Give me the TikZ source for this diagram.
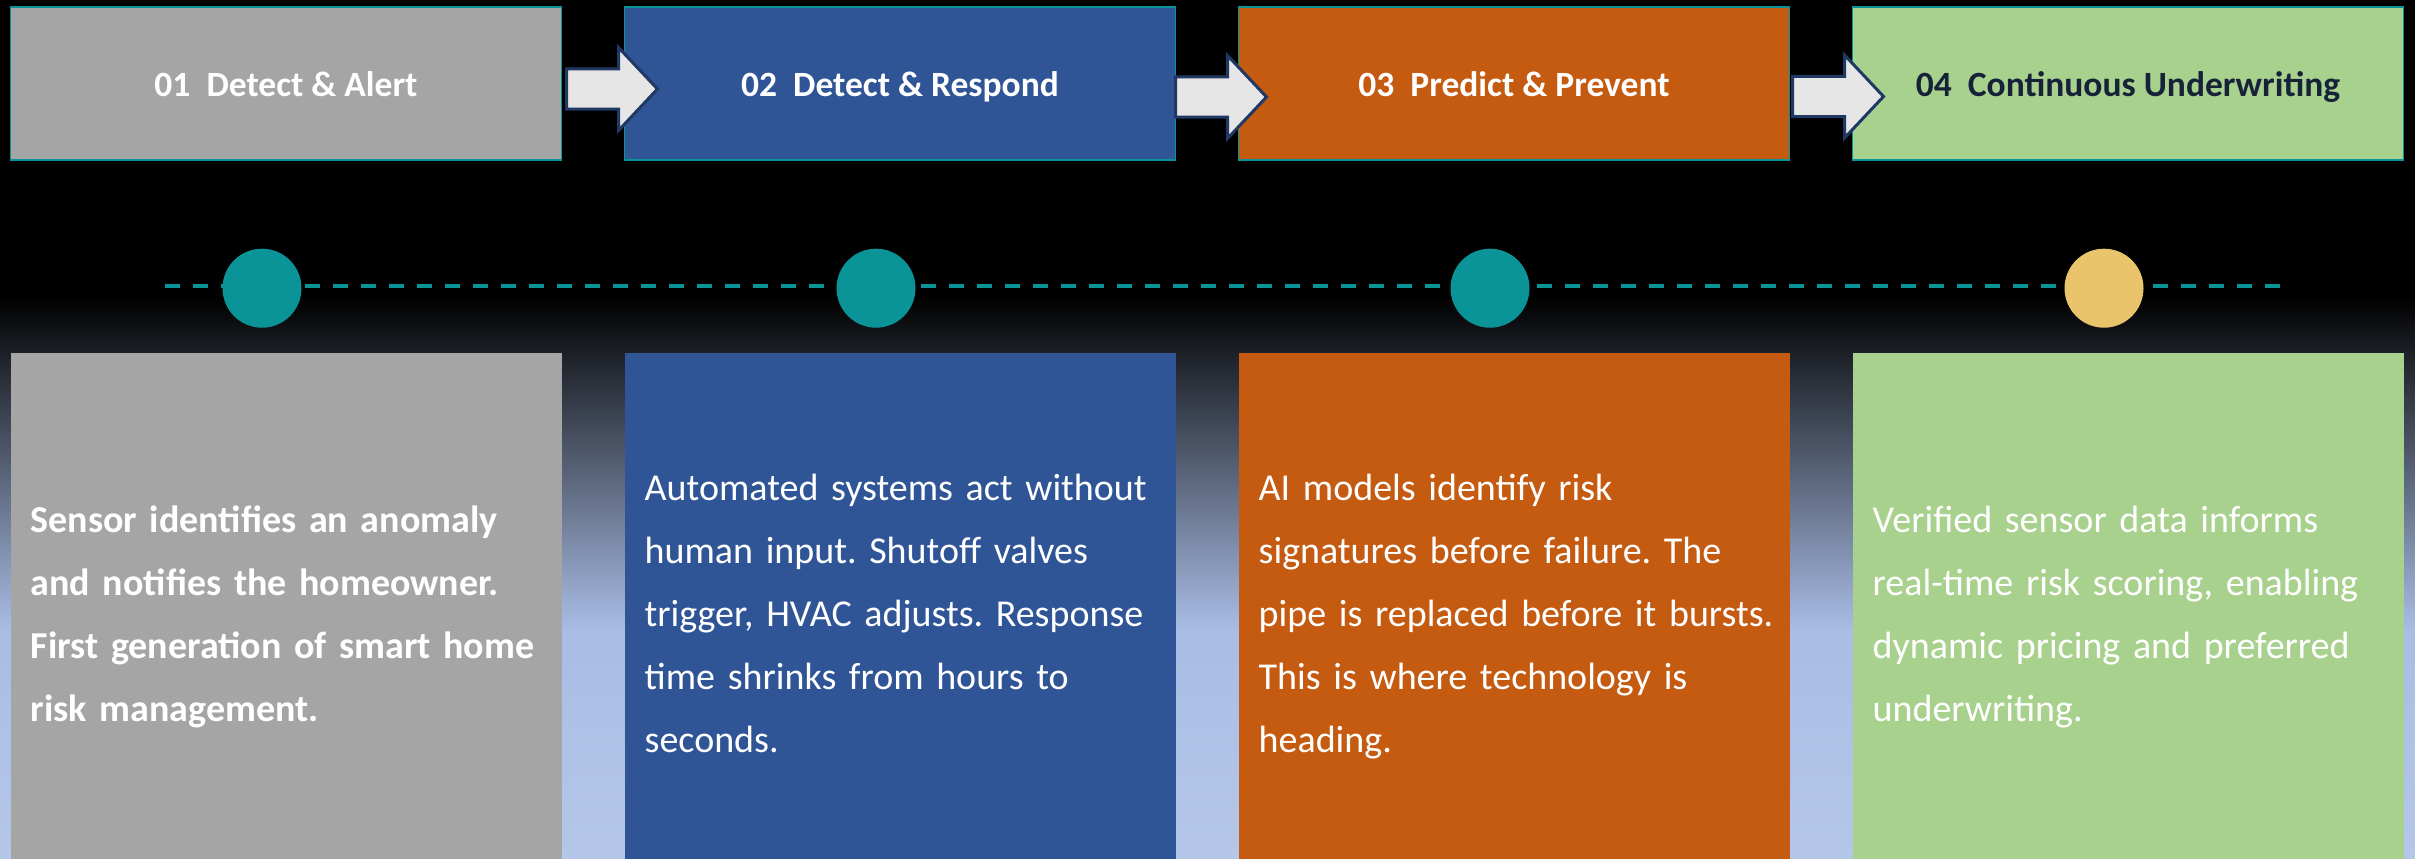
\documentclass[tikz,border=0pt]{standalone}
\usepackage{fontspec}
\setmainfont{Carlito}
\frenchspacing
\usetikzlibrary{positioning,calc}

\definecolor{stagegrey}{HTML}{A5A5A5}
\definecolor{stageblue}{HTML}{2F5597}
\definecolor{stageorange}{HTML}{C55A11}
\definecolor{stagegreen}{HTML}{A9D18E}
\definecolor{dotteal}{HTML}{0B9497}
\definecolor{dotgold}{HTML}{E9C46A}
\definecolor{arrowfill}{HTML}{E7E6E6}
\definecolor{arrowline}{HTML}{1F3864}
\definecolor{titlenavy}{HTML}{172239}
\definecolor{skyblue}{HTML}{A9BDE5}
\definecolor{skylight}{HTML}{B4C7E8}

\tikzstyle{stagehead} = [rectangle, draw=dotteal, line width=1.2pt, minimum width=551pt, minimum height=153pt, inner sep=0pt, outer sep=0pt, text=white, font=\fontsize{35.5}{40}\selectfont\bfseries, text height=25pt, text depth=0pt]
\tikzstyle{stagebody} = [rectangle, minimum width=551pt, minimum height=506pt, inner sep=0pt, outer sep=0pt]
\tikzstyle{stagetext} = [anchor=west, inner sep=0pt, text=white, text width=620pt, align=left, font=\fontsize{38}{63}\selectfont, execute at begin node=\strut, execute at end node=\strut]
\tikzstyle{stagedot} = [circle, minimum size=79pt, inner sep=0pt, fill=dotteal]
\tikzstyle{timeline} = [draw=dotteal, line width=4pt, dash pattern=on 15pt off 13pt]
\tikzstyle{blockarrow} = [draw=arrowline, fill=arrowfill, line width=3pt, line join=miter]

\tikzset{stagearrow/.pic={
    \path[blockarrow] (0,-20) -- (52,-20) -- (52,-41.5) -- (91,0)
        -- (52,41.5) -- (52,20) -- (0,20) -- cycle;}}

\begin{document}
\begin{tikzpicture}[x=1pt, y=-1pt, node distance=63pt]

    % background
    \fill[black] (0,0) rectangle (2415,859);
    \shade[top color=black, bottom color=skyblue] (0,297) rectangle (2415,630);
    \shade[top color=skyblue, bottom color=skylight] (0,630) rectangle (2415,859);
    \useasboundingbox (0,0) rectangle (2415,859);

    % stage titles
    \node[stagehead, fill=stagegrey] (h1) at (286,83.5) {01\ \ Detect \& Alert};
    \node[stagehead, fill=stageblue, right=of h1] (h2) {02\ \ Detect \& Respond};
    \node[stagehead, fill=stageorange, right=of h2] (h3) {03\ \ Predict \& Prevent};
    \node[stagehead, fill=stagegreen, right=of h3, text=titlenavy
            ] (h4) {04\ \ Continuous Underwriting};

    % arrows between titles
    \pic at ($(h1.east)+(5,5.5)$) {stagearrow};
    \pic at ($(h2.east)+(0,13.5)$) {stagearrow};
    \pic at ($(h3.east)+(3,13)$) {stagearrow};

    % timeline
    \coordinate (tl) at (165,286);
    \coordinate (tr) at (2281,286);
    \draw[timeline] (tl) -- (tr);
    \node[stagedot, below=88.5pt of h1, xshift=-24pt] (c1) {};
    \node[stagedot, below=88.5pt of h2, xshift=-24pt] (c2) {};
    \node[stagedot, below=88.5pt of h3, xshift=-24pt] (c3) {};
    \node[stagedot, below=88.5pt of h4, xshift=-24pt, fill=dotgold] (c4) {};

    % stage descriptions
    \node[stagebody, fill=stagegrey, below=193pt of h1] (b1) {};
    \node[stagebody, fill=stageblue, below=193pt of h2] (b2) {};
    \node[stagebody, fill=stageorange, below=193pt of h3] (b3) {};
    \node[stagebody, fill=stagegreen, below=193pt of h4] (b4) {};

    \node[stagetext, font=\fontsize{38}{63}\selectfont\bfseries
            ] (t1) at ($(b1.west)+(20,8)$) {Sensor identifies an anomaly\\
        and notifies the homeowner.\\ First generation of smart home\\
        risk management.};
    \node[stagetext] (t2) at ($(b2.west)+(20,8)$) {Automated systems act without\\
        human input. Shutoff valves\\ trigger, HVAC adjusts. Response\\
        time shrinks from hours to\\ seconds.};
    \node[stagetext] (t3) at ($(b3.west)+(20,8)$) {AI models identify risk\\
        signatures before failure. The\\ pipe is replaced before it bursts.\\
        This is where technology is\\ heading.};
    \node[stagetext] (t4) at ($(b4.west)+(20,8)$) {Verified sensor data informs\\
        real-time risk scoring, enabling\\ dynamic pricing and preferred\\
        underwriting.};

\end{tikzpicture}
\end{document}
